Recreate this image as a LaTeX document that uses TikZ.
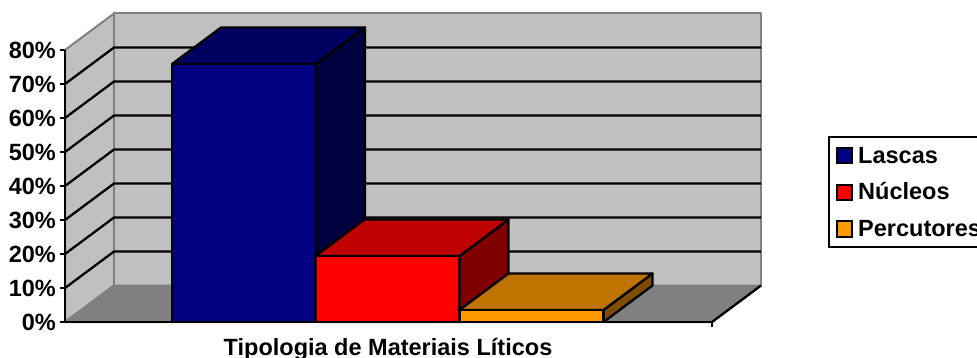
\documentclass[tikz,border=0pt]{standalone}
\usepackage{fontspec}
\setmainfont{Liberation Sans}
\definecolor{wall}{RGB}{192,192,192}
\definecolor{floor}{RGB}{128,128,128}
\definecolor{lascas}{RGB}{0,0,128}
\definecolor{nucleos}{RGB}{255,0,0}
\definecolor{percutores}{RGB}{255,153,0}

\begin{document}
\begin{tikzpicture}[x=1pt,y=-1pt]

\def\dx{49}
\def\dy{36.5}
\def\base{322}

\tikzset{
    every node/.style={font=\bfseries\fontsize{23.5}{25}\selectfont, inner sep=0pt},
    pane/.style={draw=floor, line width=2pt, line join=round},
    grid line/.style={draw, line width=2.3pt},
    face/.style={draw, line width=2.3pt, line join=round},
    key/.style={draw, line width=2pt, minimum width=15, minimum height=15}
}

\useasboundingbox (0,0) rectangle (977,358);

% walls and floor
\path[pane, fill=wall] (65,50) -- ++(\dx,-\dy) -- (114,285.5) -- (65,\base) -- cycle;
\path[pane, fill=wall] (114,13.5) rectangle (761,285.5);
\path[pane, fill=floor] (65,\base) -- (114,285.5) -- (761,285.5) -- (712,\base) -- cycle;
\draw[line width=2.3pt] (712,\base) -- (761,285.5);

% grid lines
\foreach \v in {1,...,7} {
    \path[grid line] (65,\base-34*\v) -- ++(\dx,-\dy) -- ++(647,0);
}

% bars
\foreach \l/\t/\c in {172/64/lascas, 315.5/256/nucleos, 459.5/310/percutores} {
    \pgfmathsetmacro\r{\l+144}
    \path[face, fill=\c!50!black] (\r,\t) -- ++(\dx,-\dy) -- (\r+\dx,\base-\dy) -- (\r,\base) -- cycle;
    \path[face, fill=\c!75!black] (\l,\t) -- ++(\dx,-\dy) -- (\r+\dx,\t-\dy) -- (\r,\t) -- cycle;
    \path[face, fill=\c] (\l,\t) rectangle (\r,\base);
}

% axes
\draw[line width=2.3pt] (65,50) -- (65,\base) -- (712,\base) -- ++(0,5);
\foreach \v in {0,...,8} {
    \pgfmathtruncatemacro\p{10*\v}
    \draw[line width=2.3pt] (60,\base-34*\v) -- (65,\base-34*\v);
    \node[anchor=east] (tick \v) at (56,\base-34*\v) {\p\%};
}

\node[anchor=base] (title) at (388,355) {Tipologia de Materiais Líticos};

% legend
\node[draw, line width=2pt, anchor=north west, minimum width=170, minimum height=110] (legend) at (828,136) {};
\node[key, fill=lascas] (key lascas) at (844,156) {};
\node[key, fill=nucleos] (key nucleos) at (844,192.5) {};
\node[key, fill=percutores] (key percutores) at (844,229) {};
\node[anchor=base west] (label lascas) at (858,163.5) {Lascas};
\node[anchor=base west] (label nucleos) at (858,200) {Núcleos};
\node[anchor=base west] (label percutores) at (858,236.5) {Percutores};
\end{tikzpicture}
\end{document}
